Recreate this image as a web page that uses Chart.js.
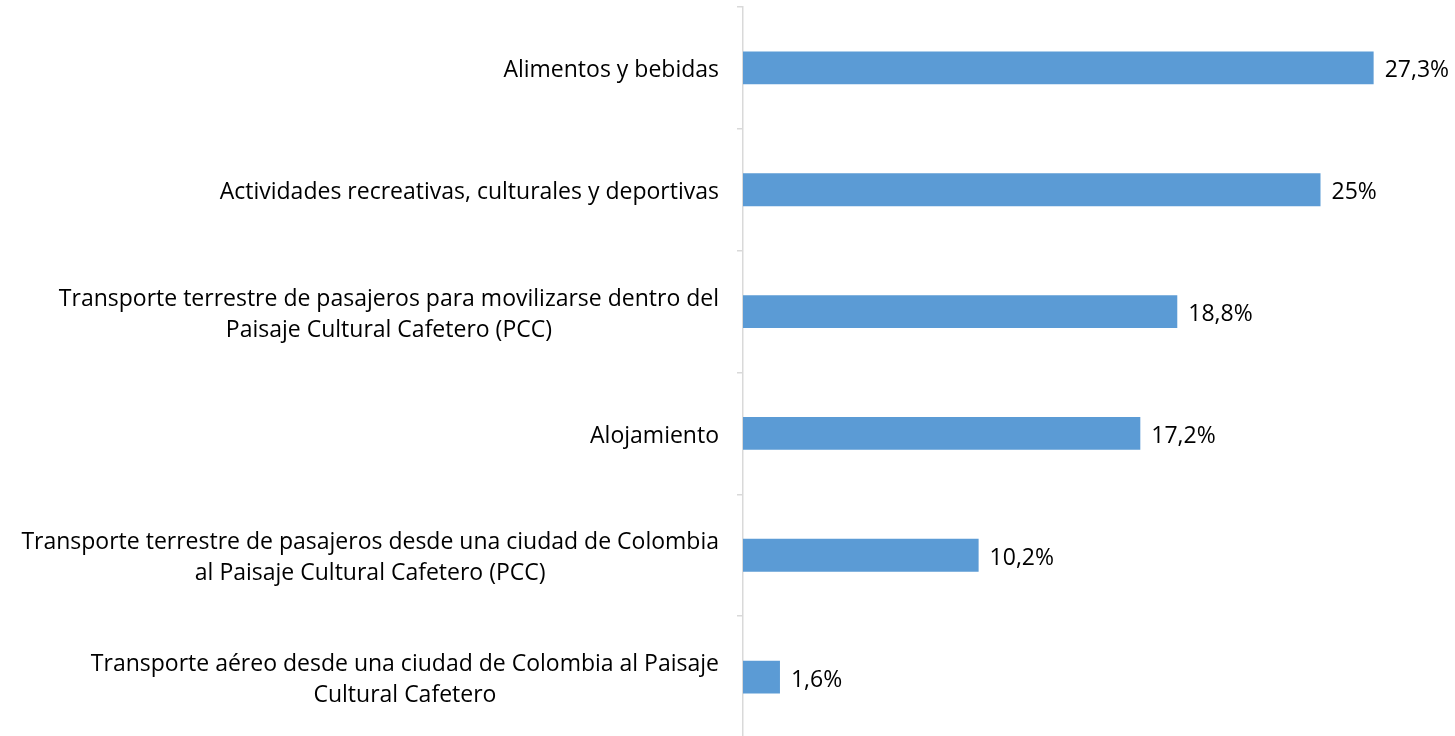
<!DOCTYPE html>
<html>
<head>
<meta charset="utf-8">
<script src="https://cdn.jsdelivr.net/npm/chart.js@4/dist/chart.umd.min.js"></script>
<style>
  html, body { margin: 0; padding: 0; background: #fff; overflow: hidden; }
  #wrap { position: relative; width: 1455px; height: 738px; }
</style>
</head>
<body>
<div id="wrap"><canvas id="myChart"></canvas></div>
<script>
// Kategorien (mehrzeilig wie im Original)
const categorias = [
    ['Alimentos y bebidas'],
    ['Actividades recreativas, culturales y deportivas'],
    ['Transporte terrestre de pasajeros para movilizarse dentro del', 'Paisaje Cultural Cafetero (PCC)'],
    ['Alojamiento'],
    ['Transporte terrestre de pasajeros desde una ciudad de Colombia', 'al Paisaje Cultural Cafetero (PCC)'],
    ['Transporte aéreo desde una ciudad de Colombia al Paisaje', 'Cultural Cafetero']
];
const valores = [27.3, 25, 18.8, 17.2, 10.2, 1.6];
const etiquetas = ['27,3%', '25%', '18,8%', '17,2%', '10,2%', '1,6%'];

const FONT = '"Open Sans", sans-serif';
const FONT_SIZE = 23;
const LINE_H = 31;

// Achsenbeschriftung: Block rechtsbündig, Zeilen zentriert
const labelPlugin = {
    id: 'labelPlugin',
    afterDraw(chart) {
        const c = chart.ctx;
        const y = chart.scales.y;
        c.save();
        c.font = FONT_SIZE + 'px ' + FONT;
        c.fillStyle = '#000';
        c.textAlign = 'center';
        c.textBaseline = 'middle';
        categorias.forEach((lines, i) => {
            const w = Math.max(...lines.map(l => c.measureText(l).width));
            const cx = y.right - 24 - w / 2;
            const cy = y.getPixelForTick(i) + 3;
            const top = cy - (lines.length - 1) * LINE_H / 2;
            lines.forEach((l, k) => c.fillText(l, cx, top + k * LINE_H));
        });
        // Werte am Balkenende
        const meta = chart.getDatasetMeta(0);
        c.textAlign = 'left';
        meta.data.forEach((bar, i) => {
            c.fillText(etiquetas[i], bar.x + 11, bar.y + 3);
        });
        c.restore();
    }
};

const ctx = document.getElementById('myChart');
const chart = new Chart(ctx, {
    type: 'bar',
    data: {
        labels: categorias,
        datasets: [{
            data: valores,
            backgroundColor: '#5b9bd5',
            borderWidth: 0,
            barPercentage: 0.27,
            categoryPercentage: 1
        }]
    },
    options: {
        indexAxis: 'y',
        responsive: true,
        maintainAspectRatio: false,
        animation: false,
        layout: { padding: { top: 7, right: 19, bottom: 0, left: 0 } },
        plugins: { legend: { display: false }, tooltip: { enabled: false } },
        scales: {
            x: { display: false, min: 0, max: 30 },
            y: {
                afterFit(scale) { scale.width = 743; },
                ticks: { display: false },
                grid: { drawOnChartArea: false, tickLength: 6, color: '#d9d9d9', lineWidth: 1.5 },
                border: { color: '#d9d9d9', width: 1.5 }
            }
        }
    },
    plugins: [labelPlugin]
});
</script>
</body>
</html>
